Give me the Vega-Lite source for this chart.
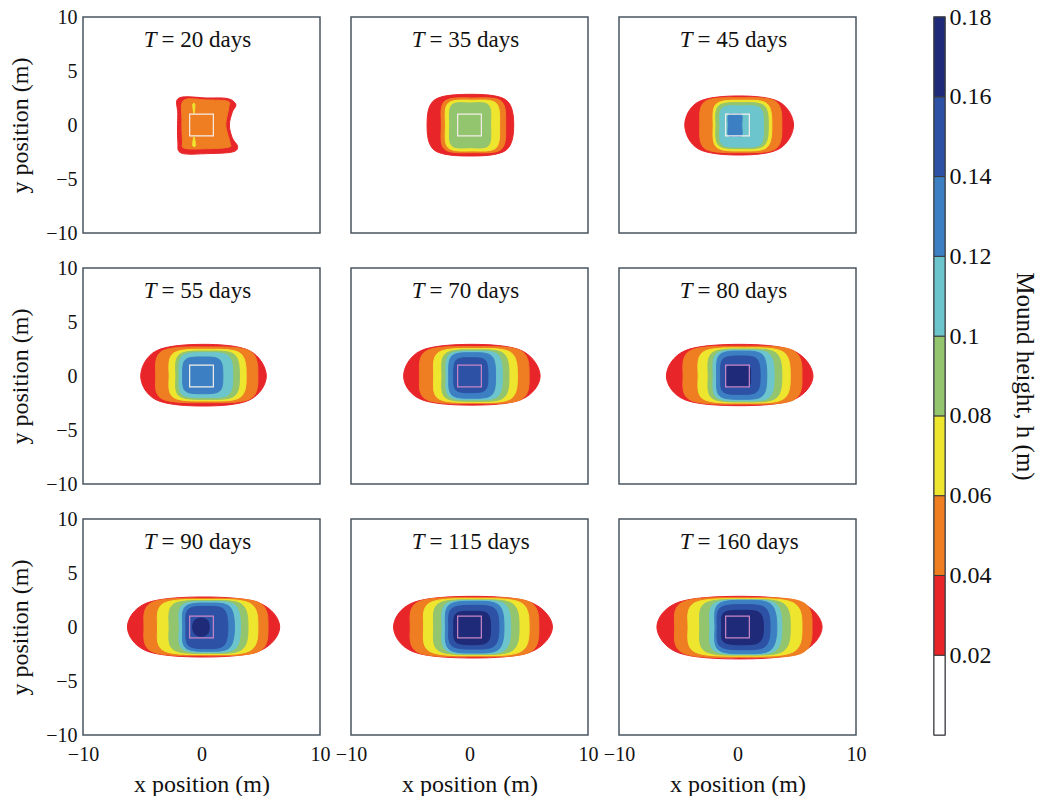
{
  "$schema": "https://vega.github.io/schema/vega-lite/v6.json",
  "background": "#ffffff",
  "padding": {"left": 8, "top": 4, "right": 2, "bottom": 3},
  "config": {
    "font": "Liberation Serif",
    "view": {"stroke": "#4a5561", "strokeWidth": 1.5},
    "header": {"labels": false, "title": null, "labelExpr": "''", "labelFontSize": 0, "labelPadding": 0, "titlePadding": 0},
    "axis": {
      "grid": false, "ticks": false, "domain": false,
      "labelFont": "Liberation Serif", "labelFontSize": 20, "labelColor": "#111111", "labelPadding": 6,
      "titleFont": "Liberation Serif", "titleFontSize": 24, "titleFontWeight": "normal", "titleColor": "#111111"
    },
    "axisX": {"labelPadding": 9, "titlePadding": 8, "labelFlush": false},
    "axisY": {"titlePadding": 13}
  },
  "hconcat": [
    {
      "data": {"values": [
        {"T":20,"k":"s","lab":"= 20 days","x0":-1,"x1":1,"y0":-1,"y1":1},
        {"T":35,"k":"s","lab":"= 35 days","x0":-1,"x1":1,"y0":-1,"y1":1},
        {"T":45,"k":"s","lab":"= 45 days","x0":-1,"x1":1,"y0":-1,"y1":1},
        {"T":55,"k":"s","lab":"= 55 days","x0":-1,"x1":1,"y0":-1,"y1":1},
        {"T":70,"k":"s","lab":"= 70 days","x0":-1,"x1":1,"y0":-1,"y1":1},
        {"T":80,"k":"s","lab":"= 80 days","x0":-1,"x1":1,"y0":-1,"y1":1},
        {"T":90,"k":"s","lab":"= 90 days","x0":-1,"x1":1,"y0":-1,"y1":1},
        {"T":115,"k":"s","lab":"= 115 days","x0":-1,"x1":1,"y0":-1,"y1":1},
        {"T":160,"k":"s","lab":"= 160 days","x0":-1,"x1":1,"y0":-1,"y1":1},

        {"T":20,"L":1,"i":0,"x":2.35,"y":0},{"T":20,"L":1,"i":1,"x":2.6,"y":1.2},{"T":20,"L":1,"i":2,"x":2.9,"y":1.9},{"T":20,"L":1,"i":3,"x":2.2,"y":2.45},{"T":20,"L":1,"i":4,"x":0.5,"y":2.5},{"T":20,"L":1,"i":5,"x":-1.9,"y":2.5},{"T":20,"L":1,"i":6,"x":-2.0,"y":1.0},{"T":20,"L":1,"i":7,"x":-2.0,"y":-1.5},{"T":20,"L":1,"i":8,"x":-1.7,"y":-2.6},{"T":20,"L":1,"i":9,"x":0.5,"y":-2.65},{"T":20,"L":1,"i":10,"x":2.6,"y":-2.5},{"T":20,"L":1,"i":11,"x":3.05,"y":-2.0},{"T":20,"L":1,"i":12,"x":2.6,"y":-1.2},
        {"T":20,"L":2,"i":0,"x":2.05,"y":0},{"T":20,"L":2,"i":1,"x":2.3,"y":1.6},{"T":20,"L":2,"i":2,"x":2.2,"y":2.2},{"T":20,"L":2,"i":3,"x":0.4,"y":2.32},{"T":20,"L":2,"i":4,"x":-1.5,"y":2.28},{"T":20,"L":2,"i":5,"x":-1.65,"y":0.5},{"T":20,"L":2,"i":6,"x":-1.6,"y":-1.5},{"T":20,"L":2,"i":7,"x":-1.45,"y":-2.15},{"T":20,"L":2,"i":8,"x":0.4,"y":-2.2},{"T":20,"L":2,"i":9,"x":2.3,"y":-2.05},{"T":20,"L":2,"i":10,"x":2.4,"y":-1.6},
        {"T":20,"L":3,"c":"a","i":0,"x":-0.74,"y":1.9},{"T":20,"L":3,"c":"a","i":1,"x":-0.56,"y":1.9},{"T":20,"L":3,"c":"a","i":2,"x":-0.63,"y":1.05},
        {"T":20,"L":3,"c":"b","i":0,"x":-0.64,"y":-1.1},{"T":20,"L":3,"c":"b","i":1,"x":-0.5,"y":-1.9},{"T":20,"L":3,"c":"b","i":2,"x":-0.74,"y":-1.9},

        {"T":35,"L":1,"i":0,"x":3.73,"y":0},{"T":35,"L":1,"i":1,"x":3.06,"y":2.33},{"T":35,"L":1,"i":2,"x":0.08,"y":2.84},{"T":35,"L":1,"i":3,"x":-2.94,"y":2.33},{"T":35,"L":1,"i":4,"x":-3.58,"y":0},{"T":35,"L":1,"i":5,"x":-2.94,"y":-2.35},{"T":35,"L":1,"i":6,"x":0.08,"y":-2.87},{"T":35,"L":1,"i":7,"x":3.06,"y":-2.35},
        {"T":35,"L":2,"i":0,"x":3.05,"y":0},{"T":35,"L":2,"i":1,"x":2.68,"y":2.2},{"T":35,"L":2,"i":2,"x":0.34,"y":2.5},{"T":35,"L":2,"i":3,"x":-2.09,"y":2.2},{"T":35,"L":2,"i":4,"x":-2.37,"y":0},{"T":35,"L":2,"i":5,"x":-2.09,"y":-2.25},{"T":35,"L":2,"i":6,"x":0.34,"y":-2.56},{"T":35,"L":2,"i":7,"x":2.68,"y":-2.25},
        {"T":35,"L":3,"i":0,"x":2.54,"y":0},{"T":35,"L":3,"i":1,"x":2.24,"y":2.02},{"T":35,"L":3,"i":2,"x":0.26,"y":2.29},{"T":35,"L":3,"i":3,"x":-1.79,"y":2.02},{"T":35,"L":3,"i":4,"x":-2.03,"y":0},{"T":35,"L":3,"i":5,"x":-1.79,"y":-2.11},{"T":35,"L":3,"i":6,"x":0.26,"y":-2.4},{"T":35,"L":3,"i":7,"x":2.24,"y":-2.11},
        {"T":35,"L":4,"i":0,"x":1.78,"y":0},{"T":35,"L":4,"i":1,"x":1.6,"y":1.84},{"T":35,"L":4,"i":2,"x":0.05,"y":2.04},{"T":35,"L":4,"i":3,"x":-1.5,"y":1.84},{"T":35,"L":4,"i":4,"x":-1.67,"y":0},{"T":35,"L":4,"i":5,"x":-1.5,"y":-1.89},{"T":35,"L":4,"i":6,"x":0.05,"y":-2.1},{"T":35,"L":4,"i":7,"x":1.6,"y":-1.89},

        {"T":45,"L":1,"i":0,"x":4.73,"y":0},{"T":45,"L":1,"i":1,"x":3.5,"y":2.15},{"T":45,"L":1,"i":2,"x":0.14,"y":2.69},{"T":45,"L":1,"i":3,"x":-3.29,"y":2.15},{"T":45,"L":1,"i":4,"x":-4.45,"y":0},{"T":45,"L":1,"i":5,"x":-3.29,"y":-2.22},{"T":45,"L":1,"i":6,"x":0.14,"y":-2.78},{"T":45,"L":1,"i":7,"x":3.5,"y":-2.22},
        {"T":45,"L":2,"i":0,"x":3.74,"y":0},{"T":45,"L":2,"i":1,"x":3.22,"y":2.18},{"T":45,"L":2,"i":2,"x":0.28,"y":2.53},{"T":45,"L":2,"i":3,"x":-2.73,"y":2.18},{"T":45,"L":2,"i":4,"x":-3.18,"y":0},{"T":45,"L":2,"i":5,"x":-2.73,"y":-2.2},{"T":45,"L":2,"i":6,"x":0.28,"y":-2.56},{"T":45,"L":2,"i":7,"x":3.22,"y":-2.2},
        {"T":45,"L":3,"i":0,"x":2.9,"y":0},{"T":45,"L":3,"i":1,"x":2.49,"y":1.97},{"T":45,"L":3,"i":2,"x":0.42,"y":2.29},{"T":45,"L":3,"i":3,"x":-1.76,"y":1.97},{"T":45,"L":3,"i":4,"x":-2.05,"y":0},{"T":45,"L":3,"i":5,"x":-1.76,"y":-2.06},{"T":45,"L":3,"i":6,"x":0.42,"y":-2.4},{"T":45,"L":3,"i":7,"x":2.49,"y":-2.06},
        {"T":45,"L":4,"i":0,"x":2.6,"y":0},{"T":45,"L":4,"i":1,"x":2.24,"y":1.78},{"T":45,"L":4,"i":2,"x":0.39,"y":2.07},{"T":45,"L":4,"i":3,"x":-1.57,"y":1.78},{"T":45,"L":4,"i":4,"x":-1.82,"y":0},{"T":45,"L":4,"i":5,"x":-1.57,"y":-1.88},{"T":45,"L":4,"i":6,"x":0.39,"y":-2.19},{"T":45,"L":4,"i":7,"x":2.24,"y":-1.88},
        {"T":45,"L":5,"i":0,"x":2.19,"y":-0.14},{"T":45,"L":5,"i":1,"x":1.93,"y":1.55},{"T":45,"L":5,"i":2,"x":0.35,"y":1.76},{"T":45,"L":5,"i":3,"x":-1.3,"y":1.55},{"T":45,"L":5,"i":4,"x":-1.48,"y":-0.14},{"T":45,"L":5,"i":5,"x":-1.3,"y":-1.8},{"T":45,"L":5,"i":6,"x":0.35,"y":-2.04},{"T":45,"L":5,"i":7,"x":1.93,"y":-1.8},
        {"T":45,"L":6,"i":0,"x":0.36,"y":0},{"T":45,"L":6,"i":1,"x":0.35,"y":0.96},{"T":45,"L":6,"i":2,"x":-0.21,"y":0.99},{"T":45,"L":6,"i":3,"x":-0.76,"y":0.96},{"T":45,"L":6,"i":4,"x":-0.78,"y":0},{"T":45,"L":6,"i":5,"x":-0.76,"y":-0.99},{"T":45,"L":6,"i":6,"x":-0.21,"y":-1.02},{"T":45,"L":6,"i":7,"x":0.35,"y":-0.99},

        {"T":55,"L":1,"i":0,"x":5.47,"y":0},{"T":55,"L":1,"i":1,"x":4.05,"y":2.34},{"T":55,"L":1,"i":2,"x":0.17,"y":2.93},{"T":55,"L":1,"i":3,"x":-3.8,"y":2.34},{"T":55,"L":1,"i":4,"x":-5.13,"y":0},{"T":55,"L":1,"i":5,"x":-3.8,"y":-2.22},{"T":55,"L":1,"i":6,"x":0.17,"y":-2.78},{"T":55,"L":1,"i":7,"x":4.05,"y":-2.22},
        {"T":55,"L":2,"i":0,"x":4.76,"y":0},{"T":55,"L":2,"i":1,"x":4.09,"y":2.31},{"T":55,"L":2,"i":2,"x":0.45,"y":2.69},{"T":55,"L":2,"i":3,"x":-3.32,"y":2.31},{"T":55,"L":2,"i":4,"x":-3.86,"y":0},{"T":55,"L":2,"i":5,"x":-3.32,"y":-2.12},{"T":55,"L":2,"i":6,"x":0.45,"y":-2.47},{"T":55,"L":2,"i":7,"x":4.09,"y":-2.12},
        {"T":55,"L":3,"i":0,"x":3.77,"y":0},{"T":55,"L":3,"i":1,"x":3.24,"y":2.12},{"T":55,"L":3,"i":2,"x":0.52,"y":2.47},{"T":55,"L":3,"i":3,"x":-2.35,"y":2.12},{"T":55,"L":3,"i":4,"x":-2.73,"y":0},{"T":55,"L":3,"i":5,"x":-2.35,"y":-1.99},{"T":55,"L":3,"i":6,"x":0.52,"y":-2.31},{"T":55,"L":3,"i":7,"x":3.24,"y":-1.99},
        {"T":55,"L":4,"i":0,"x":3.2,"y":0},{"T":55,"L":4,"i":1,"x":2.75,"y":1.99},{"T":55,"L":4,"i":2,"x":0.52,"y":2.31},{"T":55,"L":4,"i":3,"x":-1.86,"y":1.99},{"T":55,"L":4,"i":4,"x":-2.16,"y":0},{"T":55,"L":4,"i":5,"x":-1.86,"y":-1.86},{"T":55,"L":4,"i":6,"x":0.52,"y":-2.16},{"T":55,"L":4,"i":7,"x":2.75,"y":-1.86},
        {"T":55,"L":5,"i":0,"x":2.64,"y":0},{"T":55,"L":5,"i":1,"x":2.27,"y":1.86},{"T":55,"L":5,"i":2,"x":0.38,"y":2.16},{"T":55,"L":5,"i":3,"x":-1.62,"y":1.86},{"T":55,"L":5,"i":4,"x":-1.88,"y":0},{"T":55,"L":5,"i":5,"x":-1.62,"y":-1.72},{"T":55,"L":5,"i":6,"x":0.38,"y":-2.0},{"T":55,"L":5,"i":7,"x":2.27,"y":-1.72},
        {"T":55,"L":6,"i":0,"x":1.8,"y":0},{"T":55,"L":6,"i":1,"x":1.53,"y":1.5},{"T":55,"L":6,"i":2,"x":0.1,"y":1.76},{"T":55,"L":6,"i":3,"x":-1.35,"y":1.5},{"T":55,"L":6,"i":4,"x":-1.59,"y":0},{"T":55,"L":6,"i":5,"x":-1.35,"y":-1.39},{"T":55,"L":6,"i":6,"x":0.1,"y":-1.64},{"T":55,"L":6,"i":7,"x":1.53,"y":-1.39},

        {"T":70,"L":1,"i":0,"x":5.96,"y":0},{"T":70,"L":1,"i":1,"x":4.41,"y":2.34},{"T":70,"L":1,"i":2,"x":0.2,"y":2.93},{"T":70,"L":1,"i":3,"x":-4.11,"y":2.34},{"T":70,"L":1,"i":4,"x":-5.56,"y":0},{"T":70,"L":1,"i":5,"x":-4.11,"y":-2.16},{"T":70,"L":1,"i":6,"x":0.2,"y":-2.7},{"T":70,"L":1,"i":7,"x":4.41,"y":-2.16},
        {"T":70,"L":2,"i":0,"x":5.03,"y":0},{"T":70,"L":2,"i":1,"x":4.33,"y":2.34},{"T":70,"L":2,"i":2,"x":0.41,"y":2.72},{"T":70,"L":2,"i":3,"x":-3.62,"y":2.34},{"T":70,"L":2,"i":4,"x":-4.21,"y":0},{"T":70,"L":2,"i":5,"x":-3.62,"y":-2.19},{"T":70,"L":2,"i":6,"x":0.41,"y":-2.55},{"T":70,"L":2,"i":7,"x":4.33,"y":-2.19},
        {"T":70,"L":3,"i":0,"x":4.04,"y":0},{"T":70,"L":3,"i":1,"x":3.47,"y":2.19},{"T":70,"L":3,"i":2,"x":0.51,"y":2.55},{"T":70,"L":3,"i":3,"x":-2.6,"y":2.19},{"T":70,"L":3,"i":4,"x":-3.02,"y":0},{"T":70,"L":3,"i":5,"x":-2.6,"y":-2.11},{"T":70,"L":3,"i":6,"x":0.51,"y":-2.45},{"T":70,"L":3,"i":7,"x":3.47,"y":-2.11},
        {"T":70,"L":4,"i":0,"x":3.33,"y":0},{"T":70,"L":4,"i":1,"x":2.86,"y":2.08},{"T":70,"L":4,"i":2,"x":0.5,"y":2.42},{"T":70,"L":4,"i":3,"x":-2.0,"y":2.08},{"T":70,"L":4,"i":4,"x":-2.32,"y":0},{"T":70,"L":4,"i":5,"x":-2.0,"y":-2.02},{"T":70,"L":4,"i":6,"x":0.5,"y":-2.35},{"T":70,"L":4,"i":7,"x":2.86,"y":-2.02},
        {"T":70,"L":5,"i":0,"x":2.77,"y":0},{"T":70,"L":5,"i":1,"x":2.38,"y":1.98},{"T":70,"L":5,"i":2,"x":0.4,"y":2.3},{"T":70,"L":5,"i":3,"x":-1.7,"y":1.98},{"T":70,"L":5,"i":4,"x":-1.98,"y":0},{"T":70,"L":5,"i":5,"x":-1.7,"y":-1.89},{"T":70,"L":5,"i":6,"x":0.4,"y":-2.2},{"T":70,"L":5,"i":7,"x":2.38,"y":-1.89},
        {"T":70,"L":6,"i":0,"x":2.2,"y":0},{"T":70,"L":6,"i":1,"x":1.87,"y":1.84},{"T":70,"L":6,"i":2,"x":0.22,"y":2.16},{"T":70,"L":6,"i":3,"x":-1.49,"y":1.84},{"T":70,"L":6,"i":4,"x":-1.75,"y":0},{"T":70,"L":6,"i":5,"x":-1.49,"y":-1.75},{"T":70,"L":6,"i":6,"x":0.22,"y":-2.06},{"T":70,"L":6,"i":7,"x":1.87,"y":-1.75},
        {"T":70,"L":7,"i":0,"x":1.55,"y":0},{"T":70,"L":7,"i":1,"x":1.32,"y":1.45},{"T":70,"L":7,"i":2,"x":0.1,"y":1.7},{"T":70,"L":7,"i":3,"x":-1.13,"y":1.45},{"T":70,"L":7,"i":4,"x":-1.33,"y":0},{"T":70,"L":7,"i":5,"x":-1.13,"y":-1.31},{"T":70,"L":7,"i":6,"x":0.1,"y":-1.54},{"T":70,"L":7,"i":7,"x":1.32,"y":-1.31},

        {"T":80,"L":1,"i":0,"x":6.37,"y":0},{"T":80,"L":1,"i":1,"x":4.71,"y":2.34},{"T":80,"L":1,"i":2,"x":0.18,"y":2.93},{"T":80,"L":1,"i":3,"x":-4.44,"y":2.34},{"T":80,"L":1,"i":4,"x":-6.0,"y":0},{"T":80,"L":1,"i":5,"x":-4.44,"y":-2.2},{"T":80,"L":1,"i":6,"x":0.18,"y":-2.75},{"T":80,"L":1,"i":7,"x":4.71,"y":-2.2},
        {"T":80,"L":2,"i":0,"x":5.44,"y":0},{"T":80,"L":2,"i":1,"x":4.68,"y":2.37},{"T":80,"L":2,"i":2,"x":0.42,"y":2.75},{"T":80,"L":2,"i":3,"x":-3.95,"y":2.37},{"T":80,"L":2,"i":4,"x":-4.59,"y":0},{"T":80,"L":2,"i":5,"x":-3.95,"y":-2.24},{"T":80,"L":2,"i":6,"x":0.42,"y":-2.6},{"T":80,"L":2,"i":7,"x":4.68,"y":-2.24},
        {"T":80,"L":3,"i":0,"x":4.45,"y":0},{"T":80,"L":3,"i":1,"x":3.83,"y":2.24},{"T":80,"L":3,"i":2,"x":0.56,"y":2.6},{"T":80,"L":3,"i":3,"x":-2.86,"y":2.24},{"T":80,"L":3,"i":4,"x":-3.32,"y":0},{"T":80,"L":3,"i":5,"x":-2.86,"y":-2.15},{"T":80,"L":3,"i":6,"x":0.56,"y":-2.5},{"T":80,"L":3,"i":7,"x":3.83,"y":-2.15},
        {"T":80,"L":4,"i":0,"x":3.74,"y":0},{"T":80,"L":4,"i":1,"x":3.22,"y":2.15},{"T":80,"L":4,"i":2,"x":0.63,"y":2.5},{"T":80,"L":4,"i":3,"x":-2.12,"y":2.15},{"T":80,"L":4,"i":4,"x":-2.47,"y":0},{"T":80,"L":4,"i":5,"x":-2.12,"y":-2.06},{"T":80,"L":4,"i":6,"x":0.63,"y":-2.4},{"T":80,"L":4,"i":7,"x":3.22,"y":-2.06},
        {"T":80,"L":5,"i":0,"x":3.09,"y":0},{"T":80,"L":5,"i":1,"x":2.66,"y":2.06},{"T":80,"L":5,"i":2,"x":0.52,"y":2.4},{"T":80,"L":5,"i":3,"x":-1.76,"y":2.06},{"T":80,"L":5,"i":4,"x":-2.05,"y":0},{"T":80,"L":5,"i":5,"x":-1.76,"y":-1.98},{"T":80,"L":5,"i":6,"x":0.52,"y":-2.3},{"T":80,"L":5,"i":7,"x":2.66,"y":-1.98},
        {"T":80,"L":6,"i":0,"x":2.47,"y":0},{"T":80,"L":6,"i":1,"x":2.1,"y":1.96},{"T":80,"L":6,"i":2,"x":0.35,"y":2.31},{"T":80,"L":6,"i":3,"x":-1.5,"y":1.96},{"T":80,"L":6,"i":4,"x":-1.76,"y":0},{"T":80,"L":6,"i":5,"x":-1.5,"y":-1.84},{"T":80,"L":6,"i":6,"x":0.35,"y":-2.16},{"T":80,"L":6,"i":7,"x":2.1,"y":-1.84},
        {"T":80,"L":7,"i":0,"x":1.91,"y":0},{"T":80,"L":7,"i":1,"x":1.62,"y":1.57},{"T":80,"L":7,"i":2,"x":0.25,"y":1.85},{"T":80,"L":7,"i":3,"x":-1.21,"y":1.57},{"T":80,"L":7,"i":4,"x":-1.42,"y":0},{"T":80,"L":7,"i":5,"x":-1.21,"y":-1.45},{"T":80,"L":7,"i":6,"x":0.25,"y":-1.7},{"T":80,"L":7,"i":7,"x":1.62,"y":-1.45},
        {"T":80,"L":8,"i":0,"x":1.1,"y":0},{"T":80,"L":8,"i":1,"x":0.99,"y":0.86},{"T":80,"L":8,"i":2,"x":0.08,"y":0.95},{"T":80,"L":8,"i":3,"x":-0.86,"y":0.86},{"T":80,"L":8,"i":4,"x":-0.95,"y":0},{"T":80,"L":8,"i":5,"x":-0.86,"y":-0.9},{"T":80,"L":8,"i":6,"x":0.08,"y":-1.0},{"T":80,"L":8,"i":7,"x":0.99,"y":-0.9},

        {"T":90,"L":1,"i":0,"x":6.6,"y":0},{"T":90,"L":1,"i":1,"x":4.88,"y":2.22},{"T":90,"L":1,"i":2,"x":0.18,"y":2.78},{"T":90,"L":1,"i":3,"x":-4.63,"y":2.22},{"T":90,"L":1,"i":4,"x":-6.25,"y":0},{"T":90,"L":1,"i":5,"x":-4.63,"y":-2.22},{"T":90,"L":1,"i":6,"x":0.18,"y":-2.78},{"T":90,"L":1,"i":7,"x":4.88,"y":-2.22},
        {"T":90,"L":2,"i":0,"x":5.61,"y":0},{"T":90,"L":2,"i":1,"x":4.82,"y":2.28},{"T":90,"L":2,"i":2,"x":0.38,"y":2.65},{"T":90,"L":2,"i":3,"x":-4.17,"y":2.28},{"T":90,"L":2,"i":4,"x":-4.85,"y":0},{"T":90,"L":2,"i":5,"x":-4.17,"y":-2.28},{"T":90,"L":2,"i":6,"x":0.38,"y":-2.65},{"T":90,"L":2,"i":7,"x":4.82,"y":-2.28},
        {"T":90,"L":3,"i":0,"x":4.76,"y":0},{"T":90,"L":3,"i":1,"x":4.09,"y":2.19},{"T":90,"L":3,"i":2,"x":0.52,"y":2.55},{"T":90,"L":3,"i":3,"x":-3.19,"y":2.19},{"T":90,"L":3,"i":4,"x":-3.71,"y":0},{"T":90,"L":3,"i":5,"x":-3.19,"y":-2.19},{"T":90,"L":3,"i":6,"x":0.52,"y":-2.55},{"T":90,"L":3,"i":7,"x":4.09,"y":-2.19},
        {"T":90,"L":4,"i":0,"x":3.92,"y":0},{"T":90,"L":4,"i":1,"x":3.37,"y":2.11},{"T":90,"L":4,"i":2,"x":0.6,"y":2.45},{"T":90,"L":4,"i":3,"x":-2.35,"y":2.11},{"T":90,"L":4,"i":4,"x":-2.73,"y":0},{"T":90,"L":4,"i":5,"x":-2.35,"y":-2.11},{"T":90,"L":4,"i":6,"x":0.6,"y":-2.45},{"T":90,"L":4,"i":7,"x":3.37,"y":-2.11},
        {"T":90,"L":5,"i":0,"x":3.29,"y":0},{"T":90,"L":5,"i":1,"x":2.83,"y":2.02},{"T":90,"L":5,"i":2,"x":0.7,"y":2.35},{"T":90,"L":5,"i":3,"x":-1.62,"y":2.02},{"T":90,"L":5,"i":4,"x":-1.88,"y":0},{"T":90,"L":5,"i":5,"x":-1.62,"y":-2.02},{"T":90,"L":5,"i":6,"x":0.7,"y":-2.35},{"T":90,"L":5,"i":7,"x":2.83,"y":-2.02},
        {"T":90,"L":6,"i":0,"x":2.78,"y":0},{"T":90,"L":6,"i":1,"x":2.36,"y":1.89},{"T":90,"L":6,"i":2,"x":0.6,"y":2.22},{"T":90,"L":6,"i":3,"x":-1.35,"y":1.89},{"T":90,"L":6,"i":4,"x":-1.59,"y":0},{"T":90,"L":6,"i":5,"x":-1.35,"y":-1.91},{"T":90,"L":6,"i":6,"x":0.6,"y":-2.25},{"T":90,"L":6,"i":7,"x":2.36,"y":-1.91},
        {"T":90,"L":7,"i":0,"x":2.22,"y":0},{"T":90,"L":7,"i":1,"x":1.89,"y":1.62},{"T":90,"L":7,"i":2,"x":0.45,"y":1.91},{"T":90,"L":7,"i":3,"x":-1.11,"y":1.62},{"T":90,"L":7,"i":4,"x":-1.31,"y":0},{"T":90,"L":7,"i":5,"x":-1.11,"y":-1.7},{"T":90,"L":7,"i":6,"x":0.45,"y":-2.0},{"T":90,"L":7,"i":7,"x":1.89,"y":-1.7},
        {"T":90,"L":8,"i":0,"x":0.66,"y":0},{"T":90,"L":8,"i":1,"x":0.5,"y":0.62},{"T":90,"L":8,"i":2,"x":-0.05,"y":0.83},{"T":90,"L":8,"i":3,"x":-0.56,"y":0.62},{"T":90,"L":8,"i":4,"x":-0.75,"y":0},{"T":90,"L":8,"i":5,"x":-0.56,"y":-0.65},{"T":90,"L":8,"i":6,"x":-0.05,"y":-0.86},{"T":90,"L":8,"i":7,"x":0.5,"y":-0.65},

        {"T":115,"L":1,"i":0,"x":7.0,"y":0},{"T":115,"L":1,"i":1,"x":5.18,"y":2.27},{"T":115,"L":1,"i":2,"x":0.3,"y":2.84},{"T":115,"L":1,"i":3,"x":-4.74,"y":2.27},{"T":115,"L":1,"i":4,"x":-6.41,"y":0},{"T":115,"L":1,"i":5,"x":-4.74,"y":-2.3},{"T":115,"L":1,"i":6,"x":0.3,"y":-2.87},{"T":115,"L":1,"i":7,"x":5.18,"y":-2.3},
        {"T":115,"L":2,"i":0,"x":5.85,"y":0},{"T":115,"L":2,"i":1,"x":5.03,"y":2.34},{"T":115,"L":2,"i":2,"x":0.43,"y":2.72},{"T":115,"L":2,"i":3,"x":-4.3,"y":2.34},{"T":115,"L":2,"i":4,"x":-5.0,"y":0},{"T":115,"L":2,"i":5,"x":-4.3,"y":-2.37},{"T":115,"L":2,"i":6,"x":0.43,"y":-2.75},{"T":115,"L":2,"i":7,"x":5.03,"y":-2.37},
        {"T":115,"L":3,"i":0,"x":5.03,"y":0},{"T":115,"L":3,"i":1,"x":4.33,"y":2.25},{"T":115,"L":3,"i":2,"x":0.58,"y":2.62},{"T":115,"L":3,"i":3,"x":-3.33,"y":2.25},{"T":115,"L":3,"i":4,"x":-3.87,"y":0},{"T":115,"L":3,"i":5,"x":-3.33,"y":-2.28},{"T":115,"L":3,"i":6,"x":0.58,"y":-2.65},{"T":115,"L":3,"i":7,"x":4.33,"y":-2.28},
        {"T":115,"L":4,"i":0,"x":4.18,"y":0},{"T":115,"L":4,"i":1,"x":3.59,"y":2.17},{"T":115,"L":4,"i":2,"x":0.58,"y":2.52},{"T":115,"L":4,"i":3,"x":-2.6,"y":2.17},{"T":115,"L":4,"i":4,"x":-3.02,"y":0},{"T":115,"L":4,"i":5,"x":-2.6,"y":-2.19},{"T":115,"L":4,"i":6,"x":0.58,"y":-2.55},{"T":115,"L":4,"i":7,"x":3.59,"y":-2.19},
        {"T":115,"L":5,"i":0,"x":3.47,"y":0},{"T":115,"L":5,"i":1,"x":2.98,"y":2.11},{"T":115,"L":5,"i":2,"x":0.58,"y":2.45},{"T":115,"L":5,"i":3,"x":-2.0,"y":2.11},{"T":115,"L":5,"i":4,"x":-2.32,"y":0},{"T":115,"L":5,"i":5,"x":-2.0,"y":-2.13},{"T":115,"L":5,"i":6,"x":0.58,"y":-2.48},{"T":115,"L":5,"i":7,"x":2.98,"y":-2.13},
        {"T":115,"L":6,"i":0,"x":2.91,"y":0},{"T":115,"L":6,"i":1,"x":2.47,"y":2.02},{"T":115,"L":6,"i":2,"x":0.44,"y":2.38},{"T":115,"L":6,"i":3,"x":-1.73,"y":2.02},{"T":115,"L":6,"i":4,"x":-2.03,"y":0},{"T":115,"L":6,"i":5,"x":-1.73,"y":-2.05},{"T":115,"L":6,"i":6,"x":0.44,"y":-2.41},{"T":115,"L":6,"i":7,"x":2.47,"y":-2.05},
        {"T":115,"L":7,"i":0,"x":2.48,"y":0},{"T":115,"L":7,"i":1,"x":2.11,"y":1.7},{"T":115,"L":7,"i":2,"x":0.37,"y":2.0},{"T":115,"L":7,"i":3,"x":-1.49,"y":1.7},{"T":115,"L":7,"i":4,"x":-1.75,"y":0},{"T":115,"L":7,"i":5,"x":-1.49,"y":-1.73},{"T":115,"L":7,"i":6,"x":0.37,"y":-2.04},{"T":115,"L":7,"i":7,"x":2.11,"y":-1.73},
        {"T":115,"L":8,"i":0,"x":1.78,"y":-0.1},{"T":115,"L":8,"i":1,"x":1.51,"y":1.23},{"T":115,"L":8,"i":2,"x":0.22,"y":1.45},{"T":115,"L":8,"i":3,"x":-1.13,"y":1.23},{"T":115,"L":8,"i":4,"x":-1.33,"y":-0.1},{"T":115,"L":8,"i":5,"x":-1.13,"y":-1.39},{"T":115,"L":8,"i":6,"x":0.22,"y":-1.64},{"T":115,"L":8,"i":7,"x":1.51,"y":-1.39},

        {"T":160,"L":1,"i":0,"x":7.14,"y":0},{"T":160,"L":1,"i":1,"x":5.28,"y":2.27},{"T":160,"L":1,"i":2,"x":0.17,"y":2.84},{"T":160,"L":1,"i":3,"x":-5.03,"y":2.27},{"T":160,"L":1,"i":4,"x":-6.8,"y":0},{"T":160,"L":1,"i":5,"x":-5.03,"y":-2.37},{"T":160,"L":1,"i":6,"x":0.17,"y":-2.96},{"T":160,"L":1,"i":7,"x":5.28,"y":-2.37},
        {"T":160,"L":2,"i":0,"x":6.29,"y":0},{"T":160,"L":2,"i":1,"x":5.41,"y":2.34},{"T":160,"L":2,"i":2,"x":0.5,"y":2.72},{"T":160,"L":2,"i":3,"x":-4.56,"y":2.34},{"T":160,"L":2,"i":4,"x":-5.3,"y":0},{"T":160,"L":2,"i":5,"x":-4.56,"y":-2.43},{"T":160,"L":2,"i":6,"x":0.5,"y":-2.82},{"T":160,"L":2,"i":7,"x":5.41,"y":-2.43},
        {"T":160,"L":3,"i":0,"x":5.44,"y":0},{"T":160,"L":3,"i":1,"x":4.68,"y":2.25},{"T":160,"L":3,"i":2,"x":0.63,"y":2.62},{"T":160,"L":3,"i":3,"x":-3.59,"y":2.25},{"T":160,"L":3,"i":4,"x":-4.17,"y":0},{"T":160,"L":3,"i":5,"x":-3.59,"y":-2.32},{"T":160,"L":3,"i":6,"x":0.63,"y":-2.7},{"T":160,"L":3,"i":7,"x":4.68,"y":-2.32},
        {"T":160,"L":4,"i":0,"x":4.45,"y":0},{"T":160,"L":4,"i":1,"x":3.83,"y":2.19},{"T":160,"L":4,"i":2,"x":0.64,"y":2.55},{"T":160,"L":4,"i":3,"x":-2.73,"y":2.19},{"T":160,"L":4,"i":4,"x":-3.18,"y":0},{"T":160,"L":4,"i":5,"x":-2.73,"y":-2.24},{"T":160,"L":4,"i":6,"x":0.64,"y":-2.6},{"T":160,"L":4,"i":7,"x":3.83,"y":-2.24},
        {"T":160,"L":5,"i":0,"x":3.74,"y":0},{"T":160,"L":5,"i":1,"x":3.22,"y":2.15},{"T":160,"L":5,"i":2,"x":0.7,"y":2.5},{"T":160,"L":5,"i":3,"x":-2.0,"y":2.15},{"T":160,"L":5,"i":4,"x":-2.33,"y":0},{"T":160,"L":5,"i":5,"x":-2.0,"y":-2.17},{"T":160,"L":5,"i":6,"x":0.7,"y":-2.52},{"T":160,"L":5,"i":7,"x":3.22,"y":-2.17},
        {"T":160,"L":6,"i":0,"x":3.32,"y":0},{"T":160,"L":6,"i":1,"x":2.82,"y":2.1},{"T":160,"L":6,"i":2,"x":0.71,"y":2.47},{"T":160,"L":6,"i":3,"x":-1.62,"y":2.1},{"T":160,"L":6,"i":4,"x":-1.9,"y":0},{"T":160,"L":6,"i":5,"x":-1.62,"y":-2.1},{"T":160,"L":6,"i":6,"x":0.71,"y":-2.47},{"T":160,"L":6,"i":7,"x":2.82,"y":-2.1},
        {"T":160,"L":7,"i":0,"x":2.75,"y":0},{"T":160,"L":7,"i":1,"x":2.34,"y":1.76},{"T":160,"L":7,"i":2,"x":0.52,"y":2.07},{"T":160,"L":7,"i":3,"x":-1.45,"y":1.76},{"T":160,"L":7,"i":4,"x":-1.71,"y":0},{"T":160,"L":7,"i":5,"x":-1.45,"y":-1.79},{"T":160,"L":7,"i":6,"x":0.52,"y":-2.1},{"T":160,"L":7,"i":7,"x":2.34,"y":-1.79},
        {"T":160,"L":8,"i":0,"x":2.19,"y":-0.05},{"T":160,"L":8,"i":1,"x":1.86,"y":1.31},{"T":160,"L":8,"i":2,"x":0.42,"y":1.54},{"T":160,"L":8,"i":3,"x":-1.14,"y":1.31},{"T":160,"L":8,"i":4,"x":-1.34,"y":-0.05},{"T":160,"L":8,"i":5,"x":-1.14,"y":-1.39},{"T":160,"L":8,"i":6,"x":0.42,"y":-1.64},{"T":160,"L":8,"i":7,"x":1.86,"y":-1.39}
      ]},
      "facet": {"field": "T", "type": "ordinal", "header": null},
      "columns": 3,
      "bounds": "flush",
      "spacing": {"row": 35, "column": 31},
      "spec": {
        "width": 237,
        "height": 216,
        "layer": [
          {"transform": [{"filter": "datum.L === 1"}],
           "mark": {"type": "line", "interpolate": "cardinal-closed", "fill": "#e8262a", "stroke": "#e8262a", "strokeWidth": 1},
           "encoding": {
             "x": {"field": "x", "type": "quantitative", "scale": {"domain": [-10, 10]}, "axis": {"values": [-10, 0, 10], "title": "x position (m)"}},
             "y": {"field": "y", "type": "quantitative", "scale": {"domain": [-10, 10]}, "axis": {"values": [-10, -5, 0, 5, 10], "title": "y position (m)"}},
             "order": {"field": "i", "type": "quantitative"}, "detail": {"field": "c"}}},
          {"transform": [{"filter": "datum.L === 2"}],
           "mark": {"type": "line", "interpolate": "cardinal-closed", "fill": "#ef7d22", "stroke": "#ef7d22", "strokeWidth": 1},
           "encoding": {
             "x": {"field": "x", "type": "quantitative", "scale": {"domain": [-10, 10]}, "axis": {"values": [-10, 0, 10], "title": "x position (m)"}},
             "y": {"field": "y", "type": "quantitative", "scale": {"domain": [-10, 10]}, "axis": {"values": [-10, -5, 0, 5, 10], "title": "y position (m)"}},
             "order": {"field": "i", "type": "quantitative"}, "detail": {"field": "c"}}},
          {"transform": [{"filter": "datum.L === 3"}],
           "mark": {"type": "line", "interpolate": "cardinal-closed", "fill": "#eee52e", "stroke": "#eee52e", "strokeWidth": 1},
           "encoding": {
             "x": {"field": "x", "type": "quantitative", "scale": {"domain": [-10, 10]}, "axis": {"values": [-10, 0, 10], "title": "x position (m)"}},
             "y": {"field": "y", "type": "quantitative", "scale": {"domain": [-10, 10]}, "axis": {"values": [-10, -5, 0, 5, 10], "title": "y position (m)"}},
             "order": {"field": "i", "type": "quantitative"}, "detail": {"field": "c"}}},
          {"transform": [{"filter": "datum.L === 4"}],
           "mark": {"type": "line", "interpolate": "cardinal-closed", "fill": "#93c46e", "stroke": "#93c46e", "strokeWidth": 1},
           "encoding": {
             "x": {"field": "x", "type": "quantitative", "scale": {"domain": [-10, 10]}, "axis": {"values": [-10, 0, 10], "title": "x position (m)"}},
             "y": {"field": "y", "type": "quantitative", "scale": {"domain": [-10, 10]}, "axis": {"values": [-10, -5, 0, 5, 10], "title": "y position (m)"}},
             "order": {"field": "i", "type": "quantitative"}, "detail": {"field": "c"}}},
          {"transform": [{"filter": "datum.L === 5"}],
           "mark": {"type": "line", "interpolate": "cardinal-closed", "fill": "#6cc5cd", "stroke": "#6cc5cd", "strokeWidth": 1},
           "encoding": {
             "x": {"field": "x", "type": "quantitative", "scale": {"domain": [-10, 10]}, "axis": {"values": [-10, 0, 10], "title": "x position (m)"}},
             "y": {"field": "y", "type": "quantitative", "scale": {"domain": [-10, 10]}, "axis": {"values": [-10, -5, 0, 5, 10], "title": "y position (m)"}},
             "order": {"field": "i", "type": "quantitative"}, "detail": {"field": "c"}}},
          {"transform": [{"filter": "datum.L === 6"}],
           "mark": {"type": "line", "interpolate": "cardinal-closed", "fill": "#3c7fc3", "stroke": "#3c7fc3", "strokeWidth": 1},
           "encoding": {
             "x": {"field": "x", "type": "quantitative", "scale": {"domain": [-10, 10]}, "axis": {"values": [-10, 0, 10], "title": "x position (m)"}},
             "y": {"field": "y", "type": "quantitative", "scale": {"domain": [-10, 10]}, "axis": {"values": [-10, -5, 0, 5, 10], "title": "y position (m)"}},
             "order": {"field": "i", "type": "quantitative"}, "detail": {"field": "c"}}},
          {"transform": [{"filter": "datum.L === 7"}],
           "mark": {"type": "line", "interpolate": "cardinal-closed", "fill": "#2c51a5", "stroke": "#2c51a5", "strokeWidth": 1},
           "encoding": {
             "x": {"field": "x", "type": "quantitative", "scale": {"domain": [-10, 10]}, "axis": {"values": [-10, 0, 10], "title": "x position (m)"}},
             "y": {"field": "y", "type": "quantitative", "scale": {"domain": [-10, 10]}, "axis": {"values": [-10, -5, 0, 5, 10], "title": "y position (m)"}},
             "order": {"field": "i", "type": "quantitative"}, "detail": {"field": "c"}}},
          {"transform": [{"filter": "datum.L === 8"}],
           "mark": {"type": "line", "interpolate": "cardinal-closed", "fill": "#1f2b78", "stroke": "#1f2b78", "strokeWidth": 1},
           "encoding": {
             "x": {"field": "x", "type": "quantitative", "scale": {"domain": [-10, 10]}, "axis": {"values": [-10, 0, 10], "title": "x position (m)"}},
             "y": {"field": "y", "type": "quantitative", "scale": {"domain": [-10, 10]}, "axis": {"values": [-10, -5, 0, 5, 10], "title": "y position (m)"}},
             "order": {"field": "i", "type": "quantitative"}, "detail": {"field": "c"}}},
          {"transform": [{"filter": "datum.k === 's'"}],
           "mark": {"type": "rect", "fillOpacity": 0, "strokeWidth": 1.2},
           "encoding": {
             "x": {"field": "x0", "type": "quantitative", "scale": {"domain": [-10, 10]}, "axis": {"values": [-10, 0, 10], "title": "x position (m)"}},
             "x2": {"field": "x1"},
             "y": {"field": "y0", "type": "quantitative", "scale": {"domain": [-10, 10]}, "axis": {"values": [-10, -5, 0, 5, 10], "title": "y position (m)"}},
             "y2": {"field": "y1"},
             "stroke": {"condition": {"test": "datum.T >= 70", "value": "#c987c6"}, "value": "#f4eeea"}}},
          {"transform": [{"filter": "datum.k === 's'"}],
           "mark": {"type": "text", "text": "T", "fontStyle": "italic", "fontSize": 23, "align": "right", "baseline": "middle", "dx": -45, "color": "#111111"},
           "encoding": {
             "x": {"datum": 0, "type": "quantitative", "axis": {"values": [-10, 0, 10], "title": "x position (m)"}},
             "y": {"datum": 7.9, "type": "quantitative", "axis": {"values": [-10, -5, 0, 5, 10], "title": "y position (m)"}}}},
          {"transform": [{"filter": "datum.k === 's'"}],
           "mark": {"type": "text", "fontSize": 23, "align": "left", "baseline": "middle", "dx": -40, "color": "#111111"},
           "encoding": {
             "x": {"datum": 0, "type": "quantitative", "axis": {"values": [-10, 0, 10], "title": "x position (m)"}},
             "y": {"datum": 7.9, "type": "quantitative", "axis": {"values": [-10, -5, 0, 5, 10], "title": "y position (m)"}},
             "text": {"field": "lab"}}}
        ]
      }
    },
    {
      "width": 11,
      "height": 718,
      "data": {"values": [
        {"lo": 0, "hi": 0.02}, {"lo": 0.02, "hi": 0.04}, {"lo": 0.04, "hi": 0.06},
        {"lo": 0.06, "hi": 0.08}, {"lo": 0.08, "hi": 0.1}, {"lo": 0.1, "hi": 0.12},
        {"lo": 0.12, "hi": 0.14}, {"lo": 0.14, "hi": 0.16}, {"lo": 0.16, "hi": 0.18}
      ]},
      "mark": {"type": "rect", "stroke": "#3a3a3a", "strokeWidth": 1},
      "encoding": {
        "y": {"field": "lo", "type": "quantitative", "scale": {"domain": [0, 0.18], "nice": false},
              "axis": {"orient": "right", "values": [0.02, 0.04, 0.06, 0.08, 0.1, 0.12, 0.14, 0.16, 0.18], "format": "~g",
                       "title": "Mound height, h (m)", "labelFontSize": 24, "titleFontSize": 25, "labelPadding": 4, "titlePadding": 20}},
        "y2": {"field": "hi"},
        "color": {"field": "lo", "type": "ordinal", "legend": null,
                  "scale": {"domain": [0, 0.02, 0.04, 0.06, 0.08, 0.1, 0.12, 0.14, 0.16],
                            "range": ["#ffffff", "#e8262a", "#ef7d22", "#eee52e", "#93c46e", "#6cc5cd", "#3c7fc3", "#2c51a5", "#1f2b78"]}}
      }
    }
  ],
  "spacing": 66
}
